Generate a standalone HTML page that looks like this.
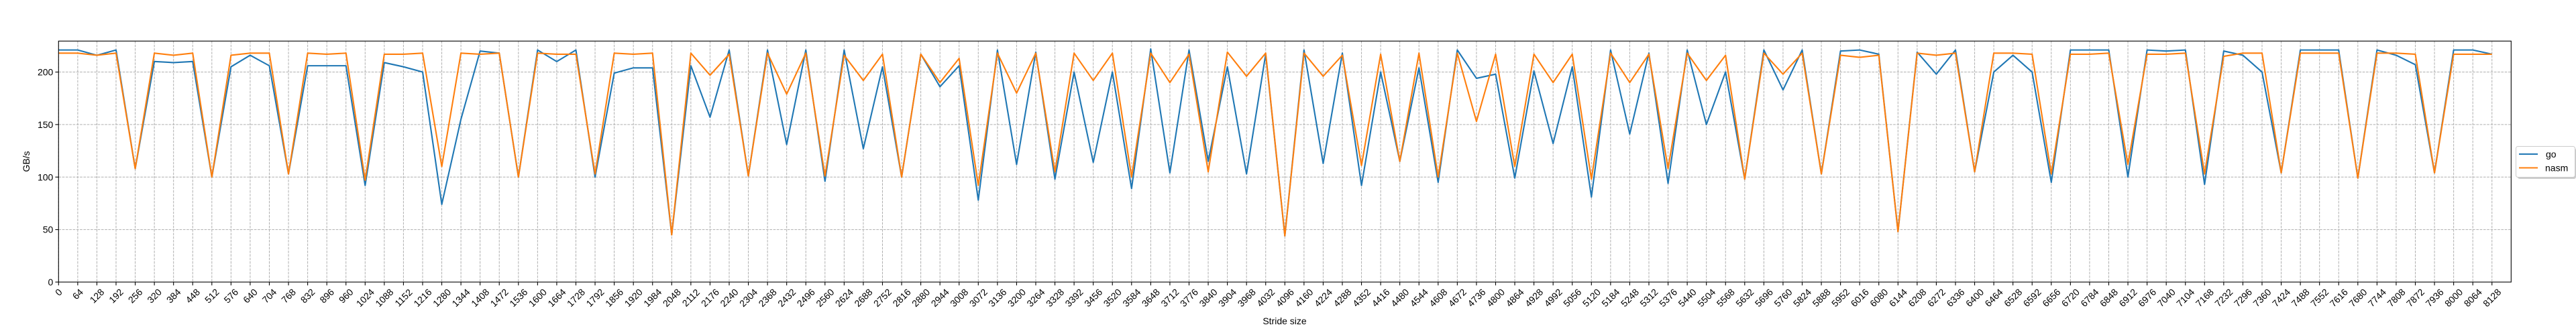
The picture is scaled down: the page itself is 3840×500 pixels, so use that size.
<!DOCTYPE html>
<html><head><meta charset="utf-8"><style>
html,body{margin:0;padding:0;background:#fff;}
svg{display:block;font-family:"Liberation Sans","DejaVu Sans",sans-serif;}
</style></head><body>
<svg id="chart" width="3840" height="500" viewBox="0 0 3840 500" xmlns="http://www.w3.org/2000/svg">
<rect x="0" y="0" width="3840" height="500" fill="#fff"/>
<g id="grid"></g>
<g id="series"></g>
<rect x="87.3" y="61.3" width="3656" height="359.7" fill="none" stroke="#000" stroke-width="1.1"/>
<g id="xticks"></g>
<g id="yticks"></g>
<text x="1915" y="484" font-size="14" text-anchor="middle">Stride size</text>
<text x="0" y="0" font-size="14" text-anchor="middle" transform="translate(44,241) rotate(-90)">GB/s</text>
<g>
<rect x="3753" y="221" width="87" height="46" rx="3" fill="#999" opacity="0.5"/>
<rect x="3750.5" y="218.5" width="88" height="46" rx="3" fill="#fff" stroke="#ccc" stroke-width="1"/>
<g>
<line x1="3755" y1="230" x2="3783" y2="230" stroke="#1f77b4" stroke-width="2.1"/>
<text x="3795" y="235" font-size="14">go</text></g>
<g>
<line x1="3755" y1="250.5" x2="3783" y2="250.5" stroke="#ff7f0e" stroke-width="2.1"/>
<text x="3794" y="255.5" font-size="14">nasm</text></g>
</g>
</svg>
<script>
const strides = [];
for (let i = 0; i < 128; i++) strides.push(i * 64);
const goValues = [221,221,216,221,108,210,209,210,100,205,216,206,103,206,206,206,92,209,205,200,74,155,220,218,100,221,210,221,100,199,204,204,45,206,157,221,101,221,131,221,96,221,127,205,100,217,186,206,78,221,112,219,98,200,114,200,89,222,104,221,115,205,103,217,44,221,113,218,92,200,115,204,95,221,194,198,99,201,132,205,81,221,141,218,94,221,150,200,98,221,183,221,103,220,221,217,48,219,198,221,105,200,216,200,95,221,221,221,100,221,220,221,93,220,216,200,104,221,221,221,99,221,216,207,104,221,221,217];
const nasmValues = [218,218,216,218,108,218,216,218,100,216,218,218,103,218,217,218,97,217,217,218,110,218,217,218,100,218,217,217,103,218,217,218,45,218,197,217,101,218,179,218,101,216,192,217,100,217,190,213,92,218,180,218,105,218,192,218,100,218,190,217,105,219,196,218,44,218,196,216,111,217,115,218,100,218,153,217,110,217,190,217,98,218,190,217,108,218,192,216,98,218,198,218,103,216,214,216,48,218,216,218,105,218,218,217,103,217,217,218,112,217,217,218,103,215,218,218,104,218,218,218,99,218,218,217,104,217,217,217];
const yTickValues = [0,50,100,150,200];

const NS = "http://www.w3.org/2000/svg";
const L = 87.3, R = 3743.3, T = 61.3, B = 421;
const xMax = 8192, yMax = 229.5;
const xs = v => L + v / xMax * (R - L);
const ys = v => B - v / yMax * (B - T);
function mk(tag, attrs, parent) {
  const e = document.createElementNS(NS, tag);
  for (const k in attrs) e.setAttribute(k, attrs[k]);
  parent.appendChild(e);
  return e;
}
const grid = document.getElementById('grid');
const xt = document.getElementById('xticks');
const yt = document.getElementById('yticks');
strides.forEach(s => {
  const x = xs(s);
  const g = mk('line', {x1:x, y1:T, x2:x, y2:B, stroke:'#b0b0b0', 'stroke-width':1, 'stroke-dasharray':'3.7,1.6'}, grid);
  
  
  const t = mk('line', {x1:x, y1:B, x2:x, y2:B+4.9, stroke:'#000', 'stroke-width':1.1}, xt);
  
  
  const label = String(s);
  const w = label.length * 7.8, h = 11;
  const cy = B + 8.4 + (w + h) / (2 * Math.SQRT2);
  const tx = mk('text', {x:0, y:0, 'font-size':14, 'text-anchor':'middle', 'dominant-baseline':'central', transform:`translate(${x},${cy}) rotate(-45)`}, xt);
  tx.textContent = label;
  
  
});
yTickValues.forEach(v => {
  const y = ys(v);
  const g = mk('line', {x1:L, y1:y, x2:R, y2:y, stroke:'#b0b0b0', 'stroke-width':1, 'stroke-dasharray':'3.7,1.6'}, grid);
  
  
  const t = mk('line', {x1:L-4.9, y1:y, x2:L, y2:y, stroke:'#000', 'stroke-width':1.1}, yt);
  
  
  const tx = mk('text', {x:L-8, y:y+5, 'font-size':14, 'text-anchor':'end'}, yt);
  tx.textContent = String(v);
  
  
});
const ser = document.getElementById('series');
function drawLine(vals, color, name) {
  const pts = vals.map((v, i) => xs(strides[i]).toFixed(2) + ',' + ys(v).toFixed(2)).join(' ');
  const p = mk('polyline', {points:pts, fill:'none', stroke:color, 'stroke-width':2.1, 'stroke-linejoin':'round'}, ser);
  
  
}
drawLine(goValues, '#1f77b4', 'go-line');
drawLine(nasmValues, '#ff7f0e', 'nasm-line');
</script>
</body></html>
